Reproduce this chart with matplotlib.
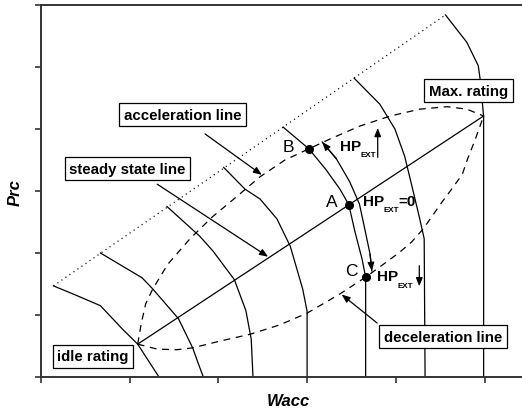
import matplotlib
matplotlib.use("Agg")
import matplotlib.pyplot as plt

plt.rcParams['font.family'] = ['Liberation Sans', 'DejaVu Sans']

# Constant corrected-speed lines, from the surge line down to choke
speed1_x = [0.14, 0.41, 0.67, 0.92, 1.09, 1.33]
speed1_y = [1.47, 1.31, 1.15, 0.77, 0.53, 0.00]
speed2_x = [0.67, 1.14, 1.26, 1.55, 1.71, 1.77, 1.83]
speed2_y = [2.00, 1.60, 1.42, 0.94, 0.47, 0.23, 0.00]
speed3_x = [1.42, 1.79, 1.94, 2.18, 2.31, 2.37, 2.39]
speed3_y = [2.75, 2.27, 2.03, 1.57, 1.07, 0.61, 0.00]
speed4_x = [2.06, 2.30, 2.47, 2.66, 2.81, 2.95, 3.00, 3.00]
speed4_y = [3.38, 3.03, 2.87, 2.55, 2.11, 1.42, 1.06, 0.00]
speed5_x = [2.73, 3.02, 3.21, 3.37, 3.47, 3.54, 3.62, 3.66, 3.66]
speed5_y = [4.03, 3.68, 3.35, 3.03, 2.78, 2.34, 1.90, 1.61, 0.00]
speed6_x = [3.53, 3.82, 3.99, 4.10, 4.19, 4.27, 4.32, 4.33]
speed6_y = [4.82, 4.40, 4.00, 3.56, 3.03, 2.55, 2.23, 0.00]
speed7_x = [4.56, 4.80, 4.93, 4.95, 4.99, 4.99]
speed7_y = [5.84, 5.40, 5.02, 4.81, 4.21, 0.00]
speed_lines = [(speed1_x, speed1_y), (speed2_x, speed2_y), (speed3_x, speed3_y),
               (speed4_x, speed4_y), (speed5_x, speed5_y), (speed6_x, speed6_y),
               (speed7_x, speed7_y)]

# Surge line
surge_x = [0.14, 4.56]
surge_y = [1.47, 5.84]

# Steady state operating line from idle to max rating
steady_x = [1.09, 4.99]
steady_y = [0.53, 4.21]

# Transient working lines
accel_x = [1.09, 1.13, 1.18, 1.26, 1.43, 1.68, 1.93, 2.19, 2.47, 2.75, 3.02,
           3.26, 3.60, 3.94, 4.27, 4.58, 4.80, 4.99]
accel_y = [0.53, 0.86, 1.18, 1.42, 1.82, 2.23, 2.58, 2.89, 3.23, 3.50, 3.68,
           3.84, 4.05, 4.21, 4.32, 4.36, 4.32, 4.21]
decel_x = [1.09, 1.31, 1.53, 1.71, 2.02, 2.36, 2.69, 3.00, 3.37, 3.66, 3.91,
           4.05, 4.18, 4.31, 4.52, 4.63, 4.75, 4.81, 4.89, 4.95, 4.99]
decel_y = [0.53, 0.45, 0.44, 0.47, 0.58, 0.69, 0.84, 1.03, 1.34, 1.61, 1.87,
           2.02, 2.18, 2.39, 2.82, 3.03, 3.27, 3.52, 3.81, 4.05, 4.21]

# Operating points
op_x = [3.02, 3.47, 3.66]
op_y = [3.68, 2.78, 1.61]
op_labels = ['B', 'A', 'C']

# Path of the transient between B and C
trans_x = [3.17, 3.33, 3.48, 3.59, 3.65, 3.71, 3.73]
trans_y = [3.79, 3.52, 3.15, 2.79, 2.39, 1.98, 1.71]

W, H = 522, 414
fig = plt.figure(figsize=(W / 100, H / 100), dpi=100)
ax = fig.add_axes([41 / W, 36 / H, (W - 41) / W, 372 / H])
ax.set_xlim(0, 481 / 88.7)
ax.set_ylim(0, 6)

spine_c = '#333333'
for side in ('left', 'bottom', 'top'):
    ax.spines[side].set_color(spine_c)
    ax.spines[side].set_linewidth(1.4)
ax.spines['right'].set_visible(False)
ax.set_xticks(range(0, 6))
ax.set_yticks(range(0, 7))
ax.tick_params(direction='out', length=4.5, width=1.2, color=spine_c,
               labelbottom=False, labelleft=False)

lw = 0.9
for sx, sy in speed_lines:
    ax.plot(sx, sy, color='black', lw=lw, zorder=2)
ax.plot(surge_x, surge_y, color='black', lw=lw, linestyle=(0, (0.9, 3.0)), zorder=2)
ax.plot(steady_x, steady_y, color='black', lw=lw, zorder=2)
ax.plot(accel_x, accel_y, color='black', lw=lw, linestyle=(0, (5.5, 4.5)), zorder=2)
ax.plot(decel_x, decel_y, color='black', lw=lw, linestyle=(0, (5.5, 4.5)), zorder=2)

ax.plot(op_x, op_y, 'o', color='black', ms=5.5, zorder=4)

# Transient path with arrowheads at both ends
ax.plot(trans_x, trans_y, color='black', lw=lw, zorder=3)
head = dict(arrowstyle='-|>,head_length=0.5,head_width=0.2', color='black',
            lw=lw, shrinkA=0, shrinkB=0, mutation_scale=10)
ax.annotate('', xy=(trans_x[0], trans_y[0]), xytext=(trans_x[1], trans_y[1]),
            arrowprops=head, zorder=3)
ax.annotate('', xy=(trans_x[-1], trans_y[-1]), xytext=(trans_x[-2], trans_y[-2]),
            arrowprops=head, zorder=3)

# Label boxes and their leaders
box = dict(boxstyle='square,pad=0.3', fc='white', ec='black', lw=0.9)
bfs = 10.8
ax.text(1.595, 4.226, 'acceleration line', ha='center', va='center',
        fontsize=bfs, fontweight='bold', bbox=box, zorder=6)
ax.text(0.975, 3.355, 'steady state line', ha='center', va='center',
        fontsize=bfs, fontweight='bold', bbox=box, zorder=6)
ax.text(0.586, 0.331, 'idle rating', ha='center', va='center',
        fontsize=bfs, fontweight='bold', bbox=box, zorder=6)
ax.text(4.532, 0.653, 'deceleration line', ha='center', va='center',
        fontsize=bfs, fontweight='bold', bbox=box, zorder=6)
ax.text(4.820, 4.613, 'Max. rating', ha='center', va='center',
        fontsize=bfs, fontweight='bold', bbox=box, zorder=6)

ax.annotate('', xy=(2.49, 3.26), xytext=(1.85, 3.92), arrowprops=head, zorder=3)
ax.annotate('', xy=(2.56, 1.94), xytext=(1.31, 3.11), arrowprops=head, zorder=3)
ax.annotate('', xy=(3.39, 1.33), xytext=(3.79, 0.87), arrowprops=head, zorder=3)

# Operating point letters
for (lx, ly), s in zip([(2.785, 3.71), (3.281, 2.823), (3.495, 1.71)], op_labels):
    ax.text(lx, ly, s, ha='center', va='center', fontsize=12.5, zorder=5)

# External power extraction labels
def hp_label(x_hp, y_hp, x_sub, y_sub):
    ax.text(x_hp, y_hp, 'HP', ha='center', va='center', fontsize=11,
            fontweight='bold', zorder=5)
    ax.text(x_sub, y_sub, 'EXT', ha='center', va='center', fontsize=5.8,
            fontweight='bold', zorder=5)

hp_label(3.495, 3.726, 3.690, 3.590)
hp_label(3.754, 2.839, 3.945, 2.700)
ax.text(4.125, 2.839, '=0', ha='center', va='center', fontsize=11,
        fontweight='bold', zorder=5)
hp_label(3.912, 1.621, 4.110, 1.480)

ax.annotate('', xy=(3.796, 4.016), xytext=(3.796, 3.544), arrowprops=head, zorder=3)
ax.annotate('', xy=(4.265, 1.463), xytext=(4.265, 1.795), arrowprops=head, zorder=3)

fig.text(288.5 / W, 1 - 402 / H, 'Wacc', ha='center', va='center',
         fontsize=12, fontweight='bold', fontstyle='italic')
fig.text(15 / W, 1 - 193 / H, 'Prc', ha='center', va='center', rotation=90,
         fontsize=12, fontweight='bold', fontstyle='italic')

fig.savefig('out.png', dpi=100)
